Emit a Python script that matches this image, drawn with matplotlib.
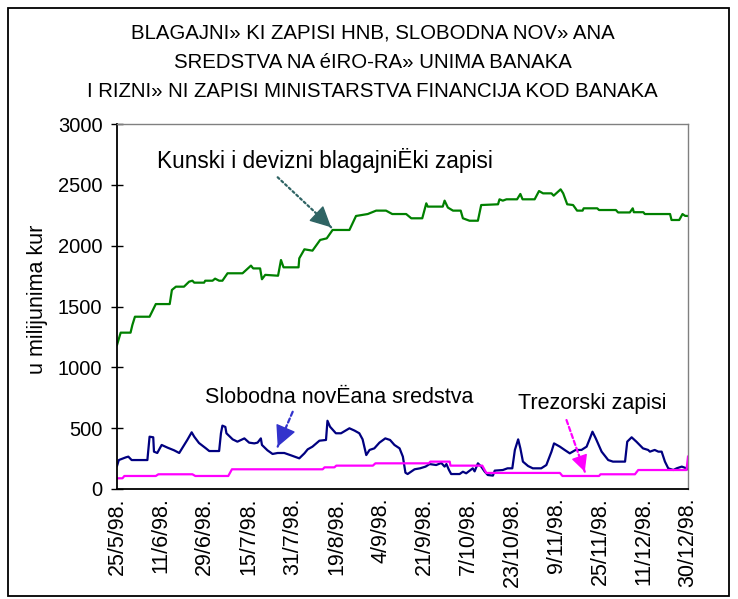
import matplotlib.pyplot as plt
from matplotlib.patches import Rectangle

plt.rcParams['font.family'] = ['Liberation Sans', 'DejaVu Sans']

# x is a working-day index, one tick label every 12 days
tick_labels = ['25/5/98.', '11/6/98.', '29/6/98.', '15/7/98.', '31/7/98.', '19/8/98.', '4/9/98.',
               '21/9/98.', '7/10/98.', '23/10/98.', '9/11/98.', '25/11/98.', '11/12/98.', '30/12/98.']
tick_days = list(range(0, 157, 12))

# Kunski i devizni blagajnicki zapisi
kun_day = [0, 1, 3.7, 4.2, 4.9, 8.9, 10.6, 14.4, 15, 16.1, 18.3, 19.7, 20.6, 21.1, 23.8, 24.1, 26.1,
           26.8, 27.9, 28.8, 30.2, 34.3, 36.6, 37.2, 39.1, 39.6, 40.5, 44, 44.8, 45.5, 49.6, 49.8,
           51.2, 53.4, 55.5, 57.3, 58.9, 63.5, 65.3, 68.5, 70.8, 73.5, 75.2, 79, 80.4, 83.4, 84.5,
           84.9, 89, 89.5, 90.4, 91.8, 93.9, 94.5, 96.3, 98.6, 99.5, 104.1, 104.5, 105.4, 106.4,
           109.3, 110.2, 110.8, 114.1, 115.3, 116.4, 118.7, 119.3, 121.2, 121.9, 123, 124.6, 125.7,
           127.2, 127.5, 131.2, 131.7, 136.3, 136.9, 140.1, 140.9, 141.2, 143.8, 144.2, 151.1,
           151.5, 153.6, 154.5, 155.2, 156]
kun_val = [1183, 1285, 1285, 1348, 1416, 1416, 1520, 1520, 1636, 1663, 1663, 1704, 1712, 1696, 1696,
           1712, 1712, 1729, 1712, 1712, 1773, 1773, 1836, 1813, 1813, 1724, 1760, 1753, 1882, 1822,
           1822, 1896, 1970, 1959, 2047, 2060, 2129, 2129, 2244, 2260, 2288, 2288, 2260, 2260, 2225,
           2225, 2348, 2321, 2321, 2370, 2313, 2288, 2288, 2225, 2205, 2205, 2334, 2340, 2381, 2370,
           2381, 2381, 2425, 2381, 2381, 2449, 2430, 2430, 2411, 2463, 2430, 2340, 2334, 2288, 2288,
           2307, 2307, 2293, 2293, 2273, 2273, 2307, 2275, 2275, 2260, 2260, 2211, 2211, 2260, 2245,
           2244]

# Slobodna novcana sredstva
slo_day = [0, 0.5, 2.4, 3.1, 4, 8.3, 8.9, 9.9, 10.1, 11, 12.2, 13.8, 15.6, 17, 19.2, 20.4, 21.1,
           22.4, 24.3, 25.2, 27.9, 28.4, 28.8, 29.6, 29.9, 31.6, 32.9, 34.8, 36.1, 37.5, 38.4, 39.3,
           39.6, 41.1, 42.5, 43.9, 45.7, 47.5, 49.8, 51.2, 52.1, 53.4, 55.3, 57.1, 57.5, 58.2, 59.8,
           61.2, 63.5, 64.9, 66.2, 67.1, 68.1, 69, 70.3, 71.7, 73.3, 74.6, 75.8, 77.2, 78.1, 78.8,
           79.4, 81.3, 82.8, 84.3, 85.4, 87.2, 88.6, 89.5, 90, 90.7, 91.3, 93.6, 94.5, 95.4, 97.2,
           97.7, 98.6, 99.5, 100.4, 101.3, 102.7, 103.2, 105.4, 106.7, 108, 108.7, 109.6, 110.2,
           110.9, 112.3, 113.6, 115.9, 117.3, 118.7, 119.4, 121, 122.3, 123.7, 125.3, 126.9, 128.3,
           129.2, 129.9, 130.8, 132.4, 134.2, 135.5, 138.8, 139.4, 140.6, 141.9, 143.7, 145.1,
           145.6, 146.9, 147.9, 148.8, 149.7, 150.6, 152, 152.9, 154.3, 155.6, 156]
slo_val = [189, 238, 260, 266, 238, 238, 430, 425, 307, 296, 362, 340, 318, 296, 403, 466, 430, 378,
           334, 312, 312, 458, 521, 510, 458, 408, 389, 416, 381, 375, 381, 416, 362, 318, 288, 296,
           296, 277, 252, 293, 326, 348, 397, 403, 561, 512, 458, 458, 499, 480, 458, 408, 279, 321,
           334, 381, 416, 403, 362, 334, 266, 134, 123, 162, 170, 184, 205, 197, 214, 184, 205, 156,
           123, 123, 142, 129, 170, 145, 211, 184, 145, 115, 110, 151, 156, 170, 170, 321, 408, 334,
           225, 189, 170, 170, 197, 307, 375, 348, 321, 293, 321, 321, 348, 416, 471, 416, 307, 238,
           225, 225, 389, 425, 389, 334, 321, 307, 321, 307, 307, 225, 170, 156, 170, 184, 170, 162]

# Trezorski zapisi
tre_day = [0, 1.5, 2, 10.6, 11.3, 20.6, 21.4, 30.4, 31.4, 56.2, 56.7, 59.4, 59.9, 69.9, 70.6, 85.2,
           85.6, 90.9, 91.1, 99.8, 100.9, 121, 121.7, 131.7, 132.1, 141.5, 142.4, 155.6, 156]
tre_val = [88, 88, 107, 107, 121, 121, 107, 107, 162, 162, 178, 178, 192, 192, 211, 211, 225, 225,
           192, 192, 132, 132, 107, 107, 121, 121, 156, 156, 266]

fig = plt.figure(figsize=(7.38, 5.99), dpi=100)
ax = fig.add_axes([117 / 738, 1 - 489 / 599, 571 / 738, 365 / 599])

ax.plot(kun_day, kun_val, color='#008000', lw=1.6)
ax.plot(slo_day, slo_val, color='#000080', lw=1.6)
ax.plot(tre_day, tre_val, color='#FF00FF', lw=1.6)

ax.set_xlim(0, 156)
ax.set_ylim(0, 3000)
ax.set_yticks(range(0, 3001, 500))
ax.set_xticks(tick_days)
ax.set_xticklabels(tick_labels, rotation=90)
ax.tick_params(axis='y', direction='inout', length=9, width=1, labelsize=14.5, pad=6)
ax.tick_params(axis='x', length=0, labelsize=15.5, pad=6)
ax.set_ylabel('u milijunima kur', fontsize=15.5)
ax.yaxis.set_label_coords(-0.12, 0.52)
for s in ['top', 'right']:
    ax.spines[s].set_color('#808080')
    ax.spines[s].set_linewidth(1)
for s in ['left', 'bottom']:
    ax.spines[s].set_linewidth(1.3)


def pointer(tail, tip, color, dash, frac, scale):
    # dotted shaft, then a solid filled head at the tip
    ax.annotate('', xy=tip, xytext=tail,
                arrowprops=dict(arrowstyle='-', linestyle=dash, lw=1.6, color=color,
                                shrinkA=0, shrinkB=0))
    mid = (tail[0] + (tip[0] - tail[0]) * frac, tail[1] + (tip[1] - tail[1]) * frac)
    ax.annotate('', xy=tip, xytext=mid,
                arrowprops=dict(arrowstyle='-|>,head_length=0.6,head_width=0.3', lw=1,
                                color=color, mutation_scale=scale, shrinkA=0, shrinkB=0))


ax.text(10.9, 2704, 'Kunski i devizni blagajniËki zapisi', fontsize=16.3, va='center')
pointer((43.9, 2562), (58.5, 2151), '#2F6464', (0, (1, 1.3)), 0.8, 22)
ax.text(24.1, 754, 'Slobodna novËana sredstva', fontsize=15.5, va='center')
pointer((48, 635), (43.9, 348), '#3333CC', (0, (2, 1.3)), 0.6, 22)
ax.text(109.6, 704, 'Trezorski zapisi', fontsize=15.5, va='center')
pointer((122.8, 567), (127.8, 142), '#FF00FF', (0, (2, 1.3)), 0.82, 17)

fig.text(0.505, 1 - 62 / 599,
         'BLAGAJNI» KI ZAPISI HNB, SLOBODNA NOV» ANA\n'
         'SREDSTVA NA éIRO-RA» UNIMA BANAKA\n'
         'I RIZNI» NI ZAPISI MINISTARSTVA FINANCIJA KOD BANAKA',
         ha='center', va='center', fontsize=14.7, linespacing=1.68)

fig.patches.append(Rectangle((8 / 738, 3 / 599), 721 / 738, 588 / 599, transform=fig.transFigure,
                             fill=False, edgecolor='black', lw=1.3))

fig.savefig('out.png', dpi=100)
